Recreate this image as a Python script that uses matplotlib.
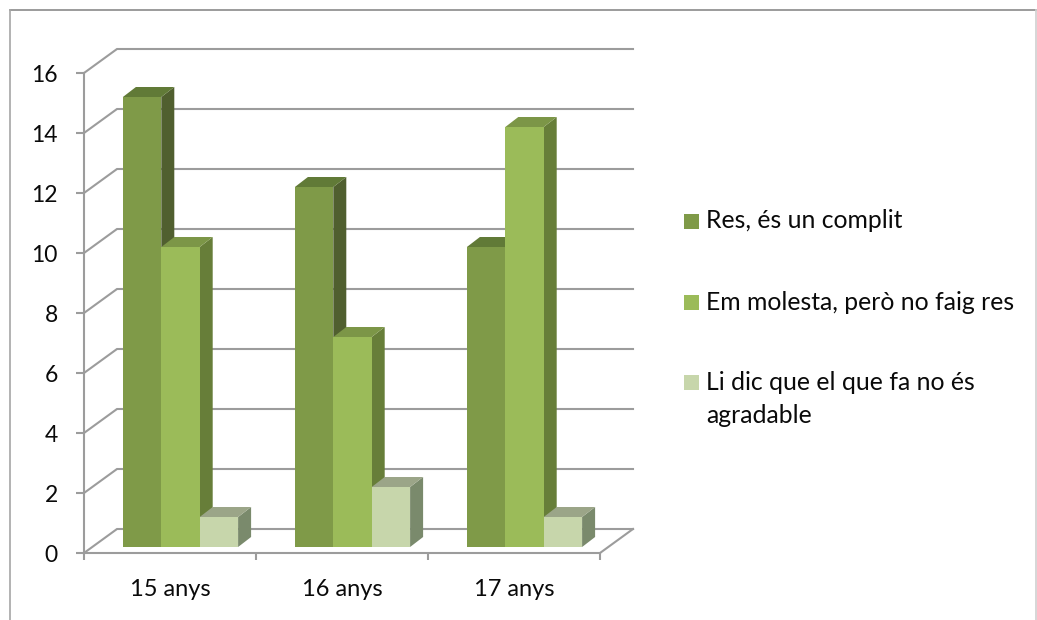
import numpy as np
from matplotlib import pyplot as plt
from matplotlib.lines import Line2D
from matplotlib.patches import Rectangle

plt.rcParams['font.family'] = ['Lato', 'DejaVu Sans']

categories = ['15 anys', '16 anys', '17 anys']
series_names = ['Res, és un complit', 'Em molesta, però no faig res',
                'Li dic que el que fa no és\nagradable']
complit = [15, 12, 10]
molesta = [10, 7, 14]
agradable = [1, 2, 1]
y_ticks = [0, 2, 4, 6, 8, 10, 12, 14, 16]

W, H = 1037, 620
GREY = '#9c9c9c'
front_cols = ['#7f9a48', '#9bbb59', '#c7d6ab']
side_cols = ['#505f2f', '#677e39', '#7a8a6c']
top_cols = ['#617a37', '#7c9647', '#9ba588']

fig = plt.figure(figsize=(W / 100, H / 100), dpi=100, facecolor='white')

# frame of the chart, bottom edge is outside the picture
fig.add_artist(Line2D([9.5 / W, 1035.5 / W], [1 - 9.5 / H] * 2, color='#8a8a8a', lw=1.2))
fig.add_artist(Line2D([9.5 / W] * 2, [0, 1 - 9.5 / H], color='#a6a6a6', lw=1.2))
fig.add_artist(Line2D([1035.5 / W] * 2, [0, 1 - 9.5 / H], color='#d0d0d0', lw=1.2))

# plot area, front plane only: 172 px per category, 30 px per unit
ax = fig.add_axes([84 / W, 1 - 553 / H, 516 / W, 480 / H])
ax.set_xlim(-0.5, 2.5)
ax.set_ylim(0, 16)
ax.patch.set_visible(False)

px_x = 1 / 172
px_y = 1 / 30
depth_x, depth_y = 33 * px_x, 24 * px_y      # depth of the floor
side_x, side_y = 13 * px_x, 10 * px_y        # depth of one bar
base_x, base_y = 10.5 * px_x, 6 * px_y       # bars stand inside the floor
bar_w = 38.4 * px_x

for s in ['top', 'right']:
    ax.spines[s].set_visible(False)
for s in ['left', 'bottom']:
    ax.spines[s].set_color(GREY)
    ax.spines[s].set_linewidth(1.5)

# walls
for v in y_ticks:
    ax.plot([-0.5, -0.5 + depth_x, 2.5 + depth_x], [v, v + depth_y, v + depth_y],
            color=GREY, lw=1.5, clip_on=False, zorder=1, solid_joinstyle='miter')
ax.plot([2.5, 2.5 + depth_x], [0, depth_y], color=GREY, lw=1.5, clip_on=False, zorder=1)

# bars, left to right so each front covers the side of the previous one
all_series = [complit, molesta, agradable]
z = 3
for i in range(len(categories)):
    for j, values in enumerate(all_series):
        x0 = i - 0.5 + 28.4 * px_x + base_x + j * bar_w
        x1 = x0 + bar_w
        y0 = base_y
        y1 = base_y + values[i]
        ax.fill([x1, x1 + side_x, x1 + side_x, x1],
                [y0, y0 + side_y, y1 + side_y, y1],
                color=side_cols[j], lw=0, clip_on=False, zorder=z)
        ax.fill([x0, x1, x1 + side_x, x0 + side_x],
                [y1, y1, y1 + side_y, y1 + side_y],
                color=top_cols[j], lw=0, clip_on=False, zorder=z)
        ax.bar(x0, values[i], width=bar_w, bottom=y0, align='edge',
               color=front_cols[j], lw=0, clip_on=False, zorder=z + 1)
        z += 2

ax.set_yticks(y_ticks)
ax.set_xticks(np.arange(-0.5, 3, 1))
ax.set_xticklabels([])
ax.set_xticks(range(len(categories)), categories, minor=True)
ax.tick_params(axis='y', length=5.8, width=1.5, color=GREY, pad=13, labelsize=16.5, labelcolor='#0a0a0a')
ax.tick_params(axis='x', which='major', length=5.2, width=1.5, color=GREY)
ax.tick_params(axis='x', which='minor', length=0, pad=18.5, labelsize=17, labelcolor='#0a0a0a')

# legend
legend_y = [221.5, 302.5, 382.5]
for name, col, ly in zip(series_names, front_cols, legend_y):
    fig.add_artist(Rectangle((684 / W, 1 - (ly + 7.5) / H), 15 / W, 15 / H, color=col, lw=0,
                             transform=fig.transFigure))
    fig.text(706 / W, 1 - (ly - 12) / H, name, ha='left', va='top', fontsize=17.8,
             color='#0a0a0a', linespacing=1.55)

fig.savefig('out.png', dpi=100)
